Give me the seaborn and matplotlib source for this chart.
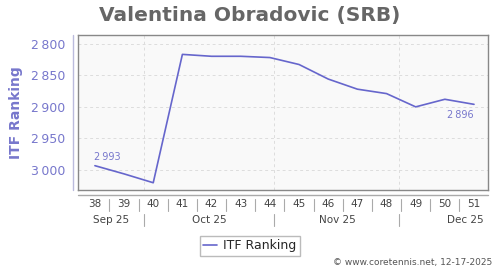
import matplotlib
matplotlib.use("Agg")
import matplotlib.pyplot as plt
import matplotlib.transforms as mtransforms
import seaborn as sns
import pandas as pd

weeks = [38, 39, 40, 41, 42, 43, 44, 45, 46, 47, 48, 49, 50, 51]
ranking = [2993, 3006, 3020, 2817, 2820, 2820, 2822, 2833, 2856, 2872, 2879, 2900, 2888, 2896]
months = ["Sep 25", "Oct 25", "Nov 25", "Dec 25"]
month_pos = [0.55, 3.93, 8.3, 12.7]
month_bounds = [1.68, 6.14, 10.43]
yticks = [2800, 2850, 2900, 2950, 3000]

LINE = "#6666cc"
AXC = "#7777cc"

sns.set_theme(style="white")
plt.rcParams['font.family'] = ['DejaVu Sans']

df = pd.DataFrame({"idx": range(len(weeks)), "rank": ranking})

fig = plt.figure(figsize=(5, 2.7), dpi=100)
ax = fig.add_axes([0.156, 0.296, 0.82, 0.574])
ax.set_facecolor("#f9f9f9")

sns.lineplot(data=df, x="idx", y="rank", ax=ax, color=LINE, linewidth=1.2, label="ITF Ranking")

ax.set_xlim(-0.58, 13.48)
ax.set_ylim(3031.6, 2786.5)

def fmt(v):
    s = f"{v:,}"
    return s.replace(",", "\u2009")

ax.set_yticks(yticks)
ax.set_yticklabels([fmt(v) for v in yticks], color=AXC, fontsize=9)
ax.tick_params(axis="y", length=4, color="#bbbbdd", pad=5)
ax.set_ylabel("ITF Ranking", color=AXC, fontsize=10, fontweight="bold", labelpad=6)

for y in yticks:
    ax.axhline(y, color="#dddddd", lw=0.7, ls=(0, (3, 3)), zorder=0)
for b in month_bounds:
    ax.axvline(b, color="#dddddd", lw=0.7, ls=(0, (3, 3)), zorder=0)

for sp in ax.spines.values():
    sp.set_color("#888888")
    sp.set_linewidth(1.0)

ax.set_xticks([])
ax.set_xlabel("")

# y-axis separate spine line
fig.add_artist(plt.Line2D([73/500, 73/500], [1-35/270, 1-190/270], color="#bbbbdd", lw=1))
# x-axis line below plot
fig.add_artist(plt.Line2D([78/500, 488/500], [1-195/270, 1-195/270], color="#aaaaaa", lw=1))

trans = mtransforms.blended_transform_factory(ax.transData, fig.transFigure)
for i, w in enumerate(weeks):
    ax.text(i, 1-204/270, str(w), transform=trans, fontsize=7.5, color="#444444",
            ha="center", va="center", clip_on=False)
for i in range(len(weeks) - 1):
    ax.plot([i + 0.5, i + 0.5], [1-199/270, 1-211/270], transform=trans, color="#aaaaaa",
            lw=0.8, clip_on=False)
for m, p in zip(months, month_pos):
    ax.text(p, 1-220/270, m, transform=trans, fontsize=7.5, color="#444444",
            ha="center", va="center", clip_on=False)
for b in month_bounds:
    ax.plot([b, b], [1-214/270, 1-226/270], transform=trans, color="#aaaaaa",
            lw=0.8, clip_on=False)

ax.annotate(fmt(ranking[0]), (0, ranking[0]), xytext=(-1, 3), textcoords="offset points",
            fontsize=7, color=AXC, ha="left", va="bottom")
ax.annotate(fmt(ranking[-1]), (len(weeks) - 1, ranking[-1]), xytext=(0, -4), textcoords="offset points",
            fontsize=7, color=AXC, ha="right", va="top")

fig.text(0.5, 1-15/270, "Valentina Obradovic (SRB)", fontsize=14.5, fontweight="bold",
         color="#666666", ha="center", va="center")

leg = ax.legend(loc="center", bbox_to_anchor=(0.5, 1-246/270), bbox_transform=fig.transFigure,
                frameon=True, fancybox=False, fontsize=9, handlelength=1.1, handletextpad=0.5,
                borderpad=0.3, borderaxespad=0)
leg.get_frame().set_edgecolor("#aaaaaa")
leg.get_frame().set_linewidth(1)

fig.text(0.985, 1-263/270, "\u00a9 www.coretennis.net, 12-17-2025", fontsize=6.5, color="#555555",
         ha="right", va="center")

fig.savefig("out.png", dpi=100)
